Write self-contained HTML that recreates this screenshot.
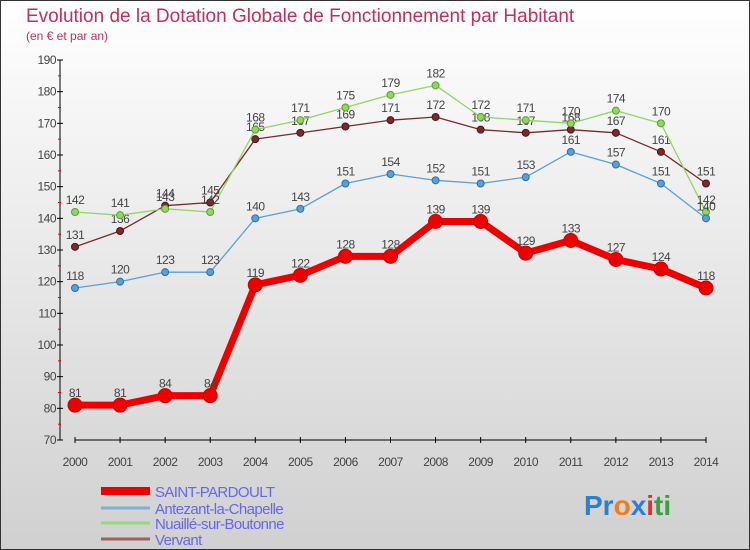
<!DOCTYPE html>
<html><head><meta charset="utf-8"><style>
body{margin:0}
#c{width:750px;height:550px;position:relative;overflow:hidden;font-family:"Liberation Sans",sans-serif}
</style></head><body>
<div id="c">
<svg id="s" width="750" height="550" xmlns="http://www.w3.org/2000/svg">
<defs><linearGradient id="bg" x1="0" y1="0" x2="0" y2="1"><stop offset="0" stop-color="#ffffff"/><stop offset="1" stop-color="#d0d0d0"/></linearGradient></defs>
<rect x="0.5" y="0.5" width="749" height="549" fill="url(#bg)" stroke="#333"/>
<text x="26" y="22" font-size="19" fill="#c0305a">Evolution de la Dotation Globale de Fonctionnement par Habitant</text>
<text x="26" y="40" font-size="12" fill="#c0305a">(en € et par an)</text>
<g id="axes"></g><g id="series"></g><g id="legend"></g>
<text x="584" y="515" font-size="28" font-weight="bold"><tspan fill="#2a7fd4">Pr</tspan><tspan fill="#f07d1a">o</tspan><tspan fill="#2a7fd4">x</tspan><tspan fill="#e03030">i</tspan><tspan fill="#3aa040">ti</tspan></text>
</svg>
</div>
<script>
const years=[2000,2001,2002,2003,2004,2005,2006,2007,2008,2009,2010,2011,2012,2013,2014];
const yTicks=[70,80,90,100,110,120,130,140,150,160,170,180,190];
const saintPardoult=[81,81,84,84,119,122,128,128,139,139,129,133,127,124,118];
const antezant=[118,120,123,123,140,143,151,154,152,151,153,161,157,151,140];
const nuaille=[142,141,143,142,168,171,175,179,182,172,171,170,174,170,142];
const vervant=[131,136,144,145,165,167,169,171,172,168,167,168,167,161,151];
const seriesNames=["SAINT-PARDOULT","Antezant-la-Chapelle","Nuaillé-sur-Boutonne","Vervant"];

const NS="http://www.w3.org/2000/svg";
const xs=i=>75+i*(706-75)/(years.length-1);
const ys=v=>440-(v-70)*(380/120);
function mk(tag,attrs,parent,txt){const e=document.createElementNS(NS,tag);for(const k in attrs)e.setAttribute(k,attrs[k]);if(txt!==undefined)e.textContent=txt;parent.appendChild(e);return e;}
const ax=document.getElementById('axes');
let l=mk('line',{x1:60,y1:60,x2:60,y2:440,stroke:'#000'},ax);


l=mk('line',{x1:75,y1:440,x2:706,y2:440,stroke:'#000'},ax);


yTicks.forEach((t,i)=>{
 mk('line',{x1:57,y1:ys(t),x2:63,y2:ys(t),stroke:'#000'},ax);
 if(i<yTicks.length-1) mk('line',{x1:58,y1:ys(t+5),x2:61,y2:ys(t+5),stroke:'#e00'},ax);
 const tx=mk('text',{x:56,y:ys(t)+4,'font-size':12,fill:'#444','text-anchor':'end','letter-spacing':'-0.5'},ax,t);
 
 
});
years.forEach((y,i)=>{
 mk('line',{x1:xs(i),y1:437,x2:xs(i),y2:443,stroke:'#000'},ax);
 const tx=mk('text',{x:xs(i),y:466,'font-size':12,fill:'#444','text-anchor':'middle','letter-spacing':'-0.5'},ax,y);
 
 
});
const sg=document.getElementById('series');
function draw(vals,color,w,r,name,dark){
 const g=mk('g',{},sg);
 
 
 mk('polyline',{points:vals.map((v,i)=>xs(i)+','+ys(v)).join(' '),fill:'none',stroke:color,'stroke-width':w,'stroke-linejoin':'round'},g);
 vals.forEach((v,i)=>{
  const c=mk('circle',{cx:xs(i),cy:ys(v),r:r,fill:color,stroke:dark,'stroke-width':1},g);
  
  
  const t=mk('text',{x:xs(i),y:ys(v)-8,'font-size':12,fill:'#444','text-anchor':'middle','letter-spacing':'-0.5'},g,v);
  
  
 });
}
draw(vervant,'#7a2a2a',1.3,3.5,'series-vervant','#501515');
draw(nuaille,'#8ed860',1.3,3.5,'series-nuaille','#5aa030');
draw(antezant,'#5aa0d8',1.3,3.5,'series-antezant','#2a70a8');
draw(saintPardoult,'#ee0000',7,7,'series-saint-pardoult','#cc0000');
const lg=document.getElementById('legend');
const lc=['#ee0000','#7fb0d0','#98d878','#a06060'],lw=[8,3,3,3],ly=[491,508,523,539];
seriesNames.forEach((n,i)=>{
 const g=mk('g',{},lg);
 
 
 mk('line',{x1:101,y1:ly[i],x2:150,y2:ly[i],stroke:lc[i],'stroke-width':lw[i]},g);
 mk('text',{x:155,y:ly[i]+6,'font-size':15,fill:'#6666ee','letter-spacing':'-0.6'},g,n);
});
</script>
</body></html>
